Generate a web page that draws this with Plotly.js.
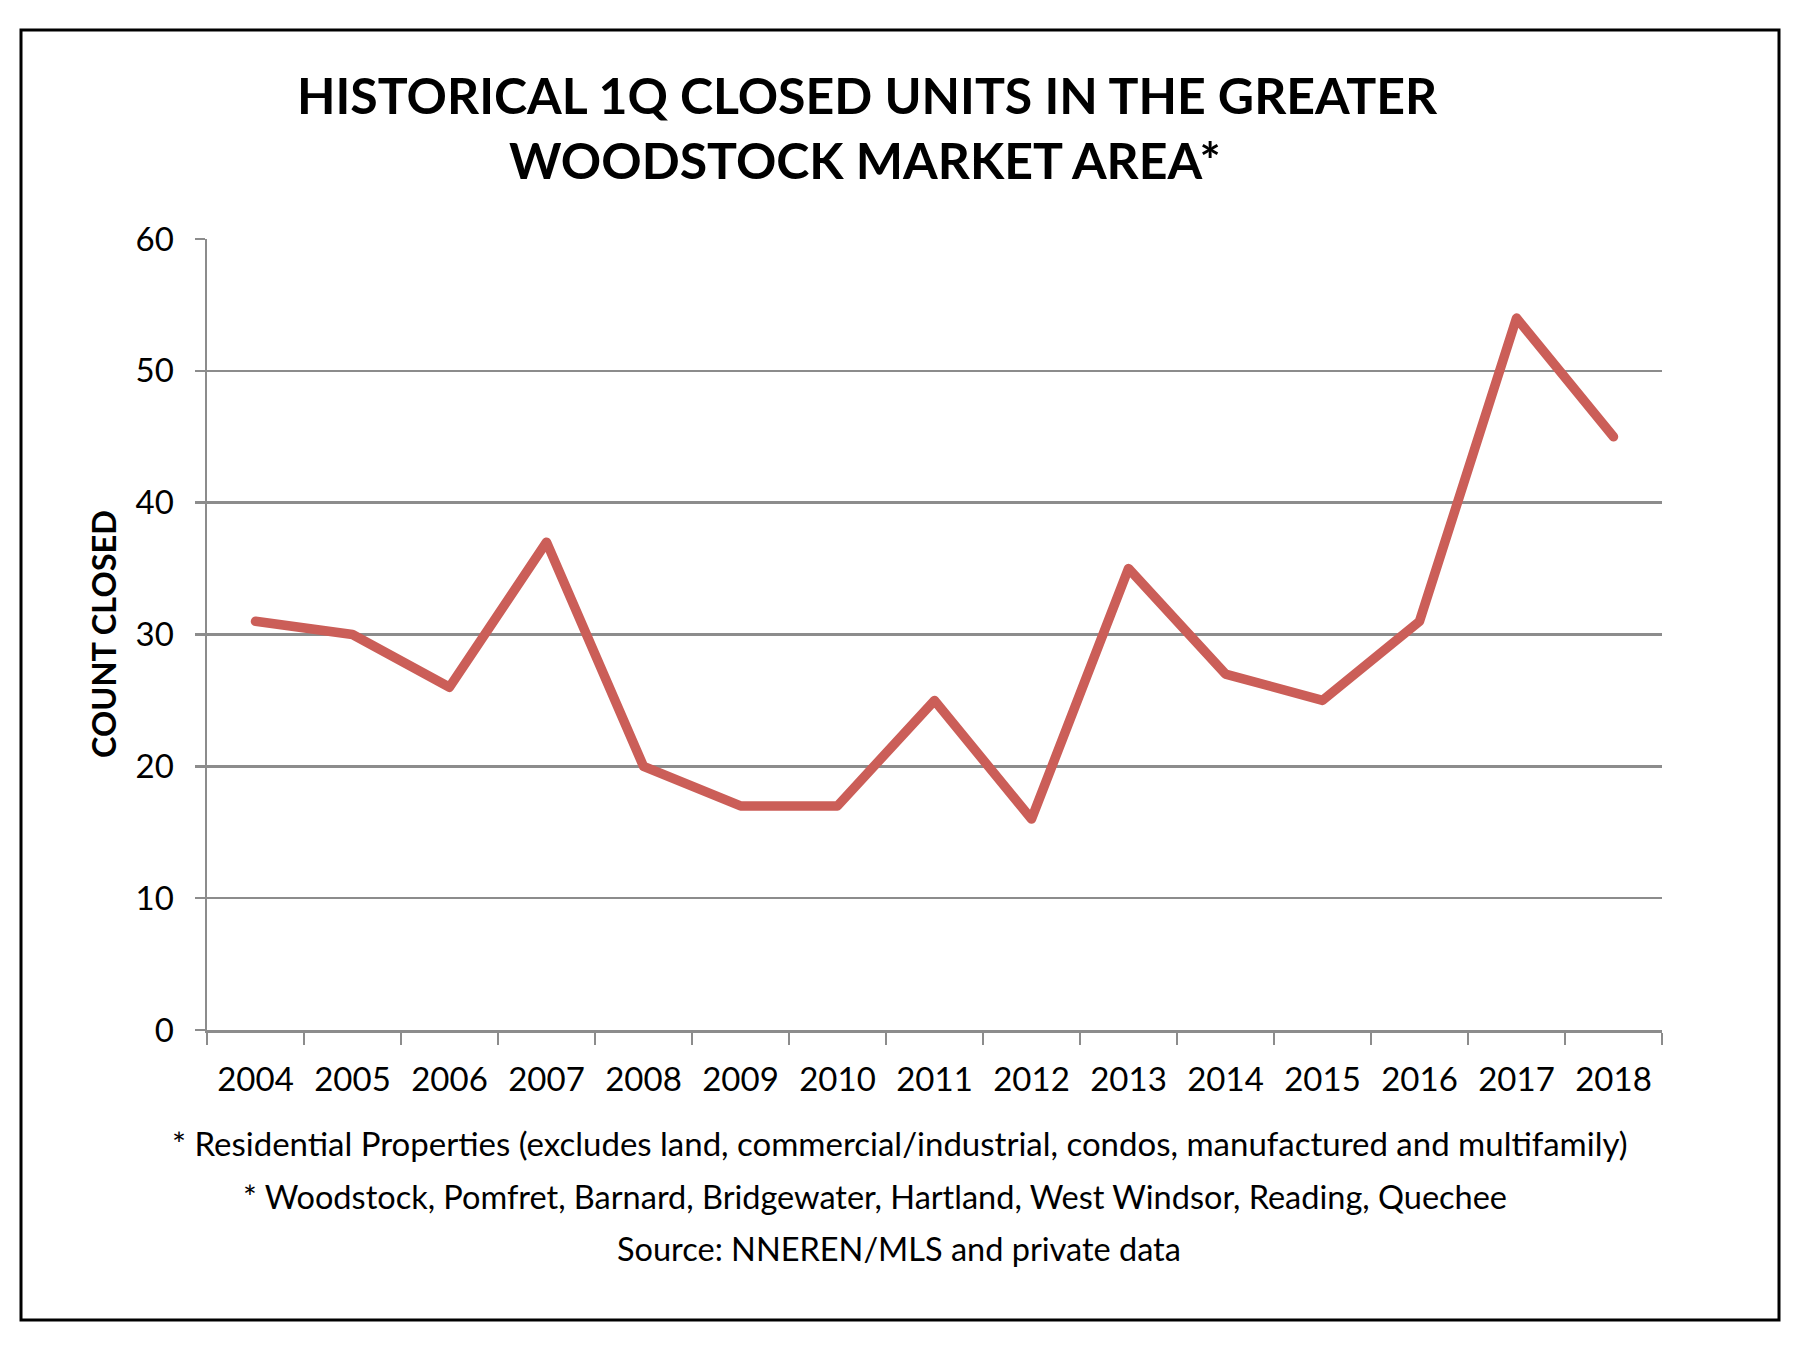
<!DOCTYPE html>
<html>
<head>
<meta charset="utf-8">
<script src="https://cdn.plot.ly/plotly-3.0.1.min.js"></script>
<style>
  html, body { margin: 0; padding: 0; background: #ffffff; }
  #chart { width: 1800px; height: 1350px; }
  .scatterlayer path.js-line { stroke-linejoin: round !important; stroke-linecap: round !important; }
</style>
</head>
<body>
<div id="chart"></div>
<script>
// First-quarter closed residential units, Greater Woodstock market area
const years = ['2004', '2005', '2006', '2007', '2008', '2009', '2010', '2011',
               '2012', '2013', '2014', '2015', '2016', '2017', '2018'];
const closedUnits = [31, 30, 26, 37, 20, 17, 17, 25, 16, 35, 27, 25, 31, 54, 45];
const yTicks = [0, 10, 20, 30, 40, 50, 60];

const titleLines = ['HISTORICAL 1Q CLOSED UNITS IN THE GREATER', 'WOODSTOCK MARKET AREA*'];
const yTitle = 'COUNT CLOSED';
const notes = [
  '* Residential Properties (excludes land, commercial/industrial, condos, manufactured and multifamily)',
  '* Woodstock, Pomfret, Barnard, Bridgewater, Hartland, West Windsor, Reading, Quechee',
  'Source: NNEREN/MLS and private data'
];

// page geometry (pixels)
const W = 1800, H = 1350;
const plotL = 207, plotR = 1662, plotT = 239, plotB = 1030;
const px = x => (x - plotL) / (plotR - plotL);
const py = y => (plotB - y) / (plotB - plotT);

const FONT = 'Lato, "Open Sans", sans-serif';
const GRID = '#8c8c8c';

const trace = {
  type: 'scatter',
  mode: 'lines',
  x: years,
  y: closedUnits,
  line: { color: '#cb5e58', width: 9.5 },
  hoverinfo: 'x+y',
  showlegend: false
};

const annotations = [
  { text: '<b>' + titleLines[0] + '</b>', x: px(867), y: py(95), font: { size: 50 } },
  { text: '<b>' + titleLines[1] + '</b>', x: px(865), y: py(160), font: { size: 50 } },
  { text: '<b>' + yTitle + '</b>', x: px(103), y: py(634), textangle: -90, font: { size: 32.5 } },
  { text: notes[0], x: px(900), y: py(1143), font: { size: 33 } },
  { text: notes[1], x: px(875), y: py(1196), font: { size: 32.5 } },
  { text: notes[2], x: px(899), y: py(1248), font: { size: 32.5 } }
].map(a => Object.assign({
  xref: 'paper', yref: 'paper', showarrow: false,
  xanchor: 'center', yanchor: 'middle'
}, a, { font: Object.assign({ family: FONT, color: '#000000' }, a.font) }));

const layout = {
  width: W, height: H,
  paper_bgcolor: '#ffffff', plot_bgcolor: '#ffffff',
  margin: { l: plotL, r: W - plotR, t: plotT, b: H - plotB, pad: 0 },
  font: { family: FONT, color: '#000000' },
  xaxis: {
    type: 'category',
    range: [-0.5, years.length - 0.5],
    tickson: 'boundaries',
    ticks: 'outside', ticklen: 12, tickwidth: 2.5, tickcolor: GRID,
    showline: true, linecolor: GRID, linewidth: 2.5,
    showgrid: false, zeroline: false,
    tickfont: { family: FONT, size: 33, color: '#000000' },
    ticklabelstandoff: 19
  },
  yaxis: {
    range: [0, 60],
    tickvals: yTicks,
    ticks: 'outside', ticklen: 10, tickwidth: 2.5, tickcolor: GRID,
    showline: true, linecolor: GRID, linewidth: 2.5,
    showgrid: true, gridcolor: GRID, gridwidth: 2.5,
    zeroline: false,
    tickfont: { family: FONT, size: 33, color: '#000000' },
    ticklabelstandoff: 14
  },
  shapes: [{
    type: 'rect', xref: 'paper', yref: 'paper',
    x0: px(21), x1: px(1779), y0: py(30), y1: py(1320),
    line: { color: '#000000', width: 3 }, fillcolor: 'rgba(0,0,0,0)', layer: 'above'
  }],
  annotations: annotations
};

Plotly.newPlot('chart', [trace], layout, { staticPlot: true, displayModeBar: false });
</script>
</body>
</html>
